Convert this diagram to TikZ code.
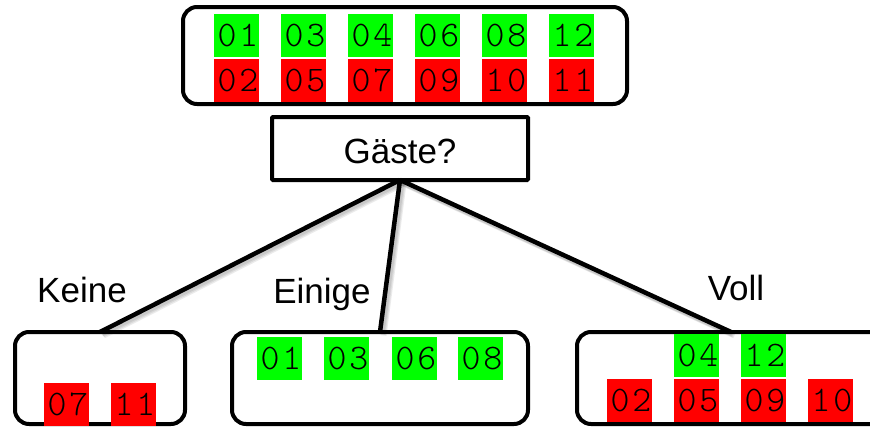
\documentclass[tikz,border=0pt]{standalone}
\usepackage{fontspec}
\setmainfont{Liberation Sans}
\newfontfamily\digitfont[LetterSpace=8]{lmmonolt10-regular.otf}
\definecolor{okgreen}{RGB}{0,255,0}
\definecolor{badred}{RGB}{255,0,0}
% letter spacing also trails the last digit, so a matching kern leads;
% the digits are centred in a fixed-width box
\newcommand\caseno[1]{\makebox[45pt][c]{\kern2.9pt#1}}
\begin{document}
\begin{tikzpicture}[x=1pt,y=-1pt,
  every node/.style={inner sep=0pt, outer sep=0pt},
  group/.style={draw=black, line width=4pt, rounded corners=14pt, fill=white},
  question/.style={draw=black, line width=4pt, fill=white, rounded corners=1pt,
    minimum width=256pt, minimum height=63pt},
  label/.style={font=\fontsize{35}{42}\selectfont, anchor=base},
  cell/.style={minimum width=45pt, minimum height=43pt,
    font=\digitfont\fontsize{36}{43}\selectfont},
  yes/.style={cell, fill=okgreen},
  no/.style={cell, fill=badred},
  branch/.style={draw=black, line width=4.5pt},
  branchshadow/.style={draw=black, line width=6pt, opacity=0.08}]
\useasboundingbox (0,0) rectangle (870,426);
\clip (0,0) rectangle (870,426);

% all examples
\node[group, minimum width=444pt, minimum height=97pt] (all) at (405,55.5) {};
\foreach \t [count=\i] in {01,03,04,06,08,12}
  \node[yes] (p\i) at ({236.5+67*(\i-1)},35.5) {\caseno{\t}};
\foreach \t [count=\i] in {02,05,07,09,10,11}
  \node[no] (n\i) at ({236.5+67*(\i-1)},80.5) {\caseno{\t}};

% attribute test
\node[question] (q) at (400,148.5) {};
\node[label] (qtext) at (400,163) {Gäste?};

% leaf groups
\node[group, minimum width=170pt, minimum height=92pt] (keine) at (100,378) {};
\node[group, minimum width=296pt, minimum height=92pt] (einige) at (380,378) {};
\node[group, minimum width=308pt, minimum height=92pt] (voll) at (731,378) {};

% branches with a soft shadow
\foreach \leaf in {keine,einige,voll}{
  \foreach \d in {1.5,2.5,3.5}
    \draw[branchshadow, transform canvas={shift={(\d pt,-\d pt)}}] (q.south) -- (\leaf.north);
  \draw[branch] (q.south) -- (\leaf.north);
}

% branch labels
\node[label] (lkeine) at (82,302) {Keine};
\node[label] (leinige) at (322,303) {Einige};
\node[label] (lvoll) at (736,300) {Voll};

% examples per branch
\node[no] (k1) at (66.5,404) {\caseno{07}};
\node[no] (k2) at (133.5,404) {\caseno{11}};

\foreach \t/\x [count=\i] in {01/279.5,03/346.5,06/414.5,08/480.5}
  \node[yes] (e\i) at (\x,358.5) {\caseno{\t}};

\node[yes] (v1) at (696.5,355.5) {\caseno{04}};
\node[yes] (v2) at (763.5,355.5) {\caseno{12}};
\foreach \t/\x [count=\i] in {02/629.5,05/696.5,09/763.5,10/830.5}
  \node[no] (w\i) at (\x,400.5) {\caseno{\t}};
\end{tikzpicture}
\end{document}
